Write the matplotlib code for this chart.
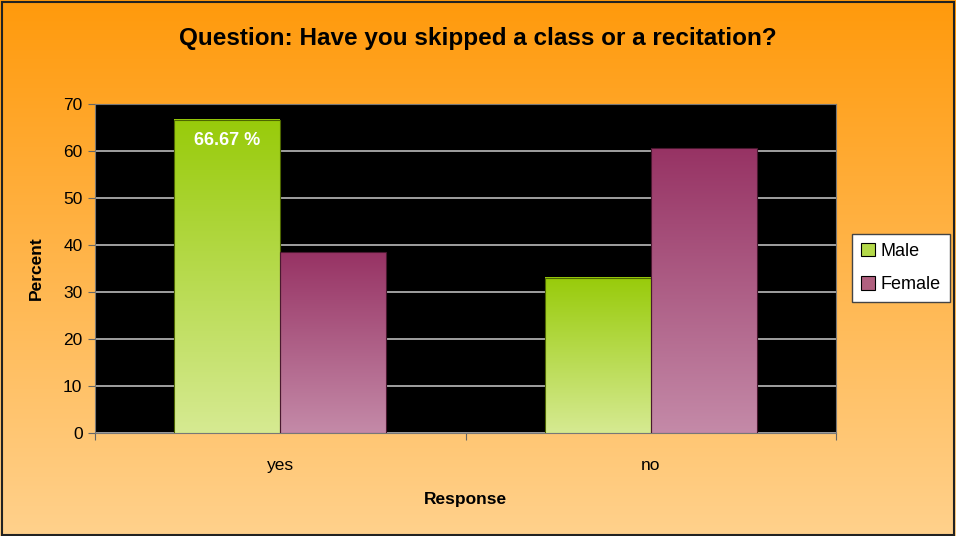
import numpy as np
import matplotlib.pyplot as plt
from matplotlib.colors import LinearSegmentedColormap
from matplotlib.patches import Rectangle

plt.rcParams['font.family'] = ['Liberation Sans', 'DejaVu Sans']

categories = ['yes', 'no']
male = [66.67, 33.0]
female = [38.5, 60.6]
series_names = ['Male', 'Female']

fig = plt.figure(figsize=(9.56, 5.36), dpi=100)

# orange background gradient over the whole figure
bg = fig.add_axes([0, 0, 1, 1], zorder=-10)
bg_cmap = LinearSegmentedColormap.from_list('bg', ['#ffd18c', '#ff9a0c'])
bg.imshow(np.linspace(0, 1, 256).reshape(-1, 1), aspect='auto', cmap=bg_cmap,
          origin='lower', extent=[0, 1, 0, 1])
bg.set_axis_off()
bg.add_patch(Rectangle((0.002, 0.002), 0.996, 0.994, fill=False, ec='#222222', lw=1.5,
                       transform=bg.transAxes))

ax = fig.add_axes([95 / 956, 1 - 433 / 536, 741 / 956, 329 / 536])
ax.set_facecolor('black')

male_cmap = LinearSegmentedColormap.from_list('m', ['#d6ea92', '#98cb0a'])
female_cmap = LinearSegmentedColormap.from_list('f', ['#c48aa8', '#973364'])

w = 0.286
x = np.arange(len(categories))
grad = np.linspace(0, 1, 256).reshape(-1, 1)
for i in range(len(categories)):
    for vals, cmap, off, ec in [(male, male_cmap, -w / 2, '#4d6600'),
                                (female, female_cmap, w / 2, '#4a1830')]:
        x0 = x[i] + off - w / 2
        ax.imshow(grad, aspect='auto', cmap=cmap, origin='lower',
                  extent=[x0, x0 + w, 0, vals[i]], zorder=3)
        ax.add_patch(Rectangle((x0, 0), w, vals[i], fill=False, ec=ec, lw=0.8, zorder=4))

ax.set_xlim(-0.5, 1.5)
ax.set_ylim(0, 70)

ax.text(x[0] - w / 2, male[0] - 2.6, '%.2f %%' % male[0], color='white', fontsize=13,
        fontweight='bold', ha='center', va='top', zorder=5)

ax.set_yticks(np.arange(0, 71, 10))
ax.yaxis.grid(True, color='#bbbbbb', lw=1.2)
ax.set_axisbelow(True)
ax.set_xticks([-0.5, 0.5, 1.5])
ax.set_xticklabels([])
ax.set_xticks(x, minor=True)
ax.set_xticklabels(categories, minor=True, fontsize=12.5)
ax.tick_params(axis='x', which='minor', length=0, pad=18)
ax.tick_params(axis='x', which='major', length=5, color='#666666')
ax.tick_params(axis='y', length=5, color='#666666', labelsize=12.5, pad=4)
for s in ax.spines.values():
    s.set_color('#777777')

ax.set_ylabel('Percent', fontsize=12.5, fontweight='bold', labelpad=14)
ax.set_xlabel('Response', fontsize=12.5, fontweight='bold', labelpad=14)

fig.text(0.5, 1 - 38 / 536, 'Question: Have you skipped a class or a recitation?',
         ha='center', va='center', fontsize=17.5, fontweight='bold')

handles = [Rectangle((0, 0), 1, 1, fc='#b4d94a', ec='black', lw=0.8),
           Rectangle((0, 0), 1, 1, fc='#b0607f', ec='black', lw=0.8)]
leg = fig.legend(handles, series_names, loc='upper left',
                 bbox_to_anchor=(852 / 956, 1 - 234 / 536), fontsize=13,
                 frameon=True, fancybox=False, handlelength=0.75, handleheight=0.75,
                 handletextpad=0.35, borderpad=0.5, labelspacing=0.9, borderaxespad=0)
leg.get_frame().set_edgecolor('#444444')
leg.get_frame().set_facecolor('white')
leg.get_frame().set_alpha(1)

fig.savefig('out.png', dpi=100)
